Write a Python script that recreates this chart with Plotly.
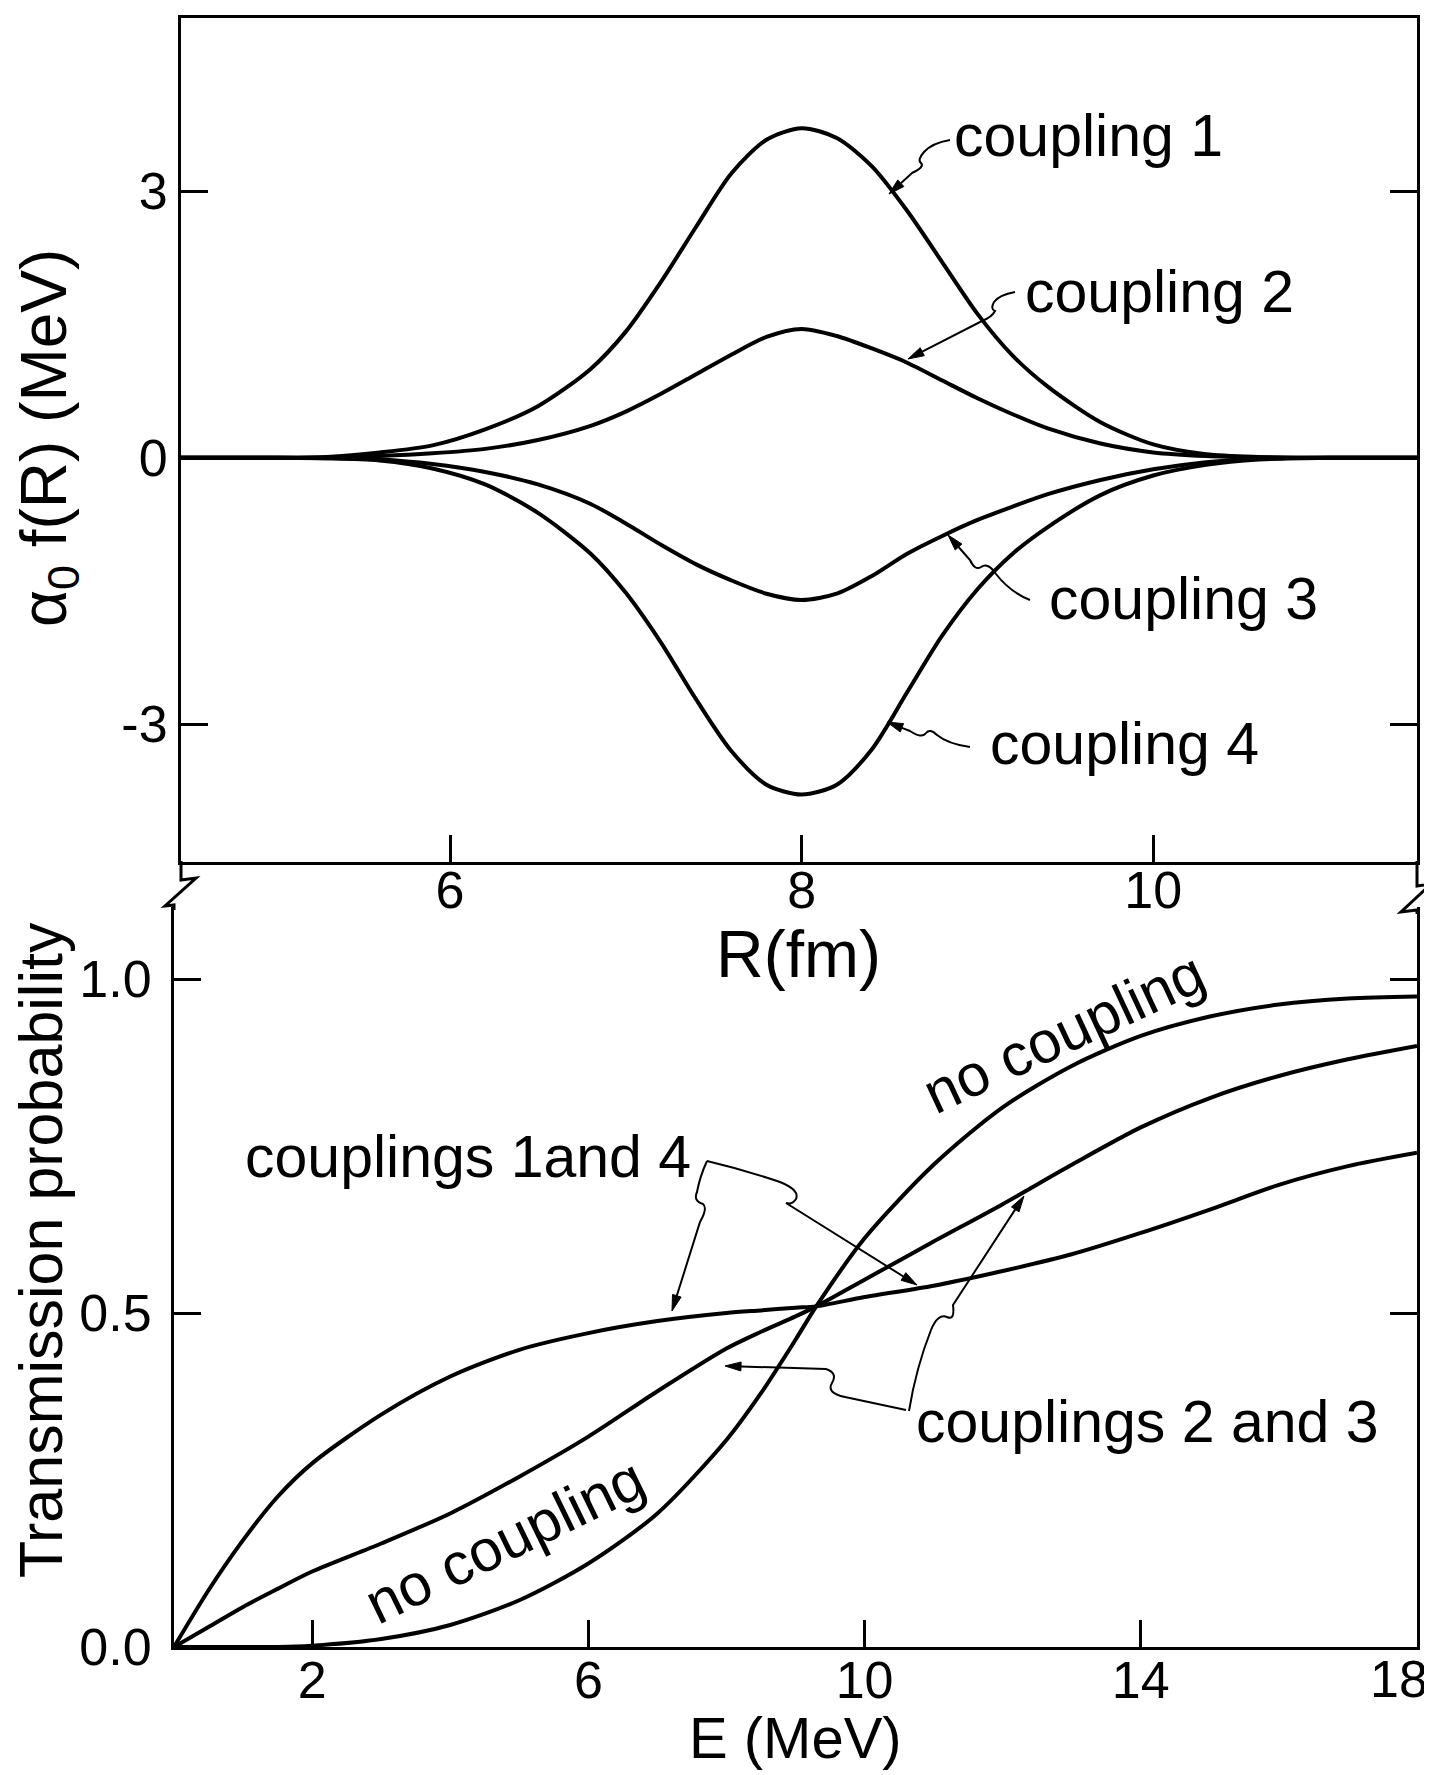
import math
import plotly.graph_objects as go

# ---------------- data ----------------
R = [4.47, 5.0, 5.3, 5.6, 5.9, 6.2, 6.5, 6.8, 7.0, 7.2, 7.4, 7.6, 7.8, 8.0,
     8.2, 8.4, 8.6, 8.8, 9.0, 9.2, 9.4, 9.7, 10.0, 10.3, 10.6, 11.0, 11.5]
coupling1 = [0, 0, 0.01, 0.06, 0.14, 0.32, 0.58, 1.0, 1.42, 1.98, 2.6, 3.2, 3.58, 3.71,
             3.6, 3.28, 2.78, 2.2, 1.62, 1.15, 0.8, 0.4, 0.15, 0.04, 0.01, 0, 0]
coupling2 = [0, 0, 0.005, 0.02, 0.05, 0.1, 0.2, 0.36, 0.52, 0.72, 0.94, 1.16, 1.36, 1.45,
             1.37, 1.23, 1.07, 0.87, 0.67, 0.49, 0.33, 0.16, 0.06, 0.02, 0.005, 0, 0]
coupling3 = [0, 0, -0.005, -0.02, -0.07, -0.16, -0.3, -0.52, -0.74, -0.98, -1.2, -1.38, -1.53, -1.6,
             -1.53, -1.33, -1.08, -0.88, -0.7, -0.55, -0.41, -0.25, -0.13, -0.05, -0.01, 0, 0]
coupling4 = [0, 0, -0.005, -0.03, -0.12, -0.3, -0.62, -1.08, -1.52, -2.08, -2.72, -3.3, -3.68, -3.79,
             -3.68, -3.28, -2.64, -2.0, -1.48, -1.08, -0.78, -0.42, -0.2, -0.08, -0.02, 0, 0]

E = [0, 0.5, 1, 1.5, 2, 3, 4, 5, 6, 7, 8, 8.5, 9, 9.3, 10, 11, 12, 13, 14, 15, 16, 17, 18]
no_coupling = [0, 0, 0, 0, 0.002, 0.012, 0.033, 0.07, 0.125, 0.2, 0.31, 0.38, 0.46, 0.51,
               0.612, 0.722, 0.808, 0.87, 0.915, 0.944, 0.962, 0.971, 0.974]
couplings_2_3 = [0, 0.03, 0.06, 0.087, 0.113, 0.155, 0.2, 0.255, 0.315, 0.383, 0.447, 0.472, 0.495,
                 0.51, 0.55, 0.607, 0.663, 0.722, 0.778, 0.822, 0.855, 0.88, 0.9]
couplings_1_4 = [0, 0.085, 0.16, 0.225, 0.275, 0.348, 0.405, 0.445, 0.47, 0.488, 0.5, 0.504, 0.508,
                 0.51, 0.524, 0.541, 0.563, 0.588, 0.62, 0.655, 0.692, 0.72, 0.74]

top_yticks = [-3, 0, 3]
top_yticktext = ["-3", "0", "3"]
top_xticks = [6, 8, 10]
bot_xticks = [2, 6, 10, 14]
bot_last_tick = "18"          # sits on the right frame; label placed just inside the page
bot_yticks = [0, 0.5, 1.0]
bot_yticktext = ["0.0", "0.5", "1.0"]

# ---------------- layout helpers ----------------
# The page body has an 8 px default margin, so the figure is made 8 px smaller
# and all page-pixel positions are converted with that offset.
OFF = 8
PAGE_W, PAGE_H = 1432, 1775
W, H = PAGE_W - OFF, PAGE_H - OFF
FONT = "Liberation Sans, Arial, Helvetica, sans-serif"


def px(x):
    return (x - OFF) / W


def py(y):
    return 1 - (y - OFF) / H


def pt(p):
    return f"{px(p[0]):.5f},{py(p[1]):.5f}"


def path(cmds, close=False):
    """Each segment gets its own command letter (plotly ignores extra params)."""
    out = []
    for c, pts in cmds:
        if c in ("M", "L"):
            for i, p in enumerate(pts):
                out.append(("M" if (c == "M" and i == 0) else "L") + " " + pt(p))
        elif c == "Q":
            for i in range(0, len(pts), 2):
                out.append("Q " + pt(pts[i]) + " " + pt(pts[i + 1]))
    s = " ".join(out)
    return s + " Z" if close else s


fig = go.Figure()

line_style = dict(color="black", width=4, shape="spline", smoothing=0.8)
for ys, nm in [(coupling1, "coupling 1"), (coupling2, "coupling 2"),
               (coupling3, "coupling 3"), (coupling4, "coupling 4")]:
    fig.add_trace(go.Scatter(x=R, y=ys, mode="lines", line=line_style, name=nm,
                             xaxis="x", yaxis="y", cliponaxis=False, hoverinfo="skip"))

for ys, nm in [(no_coupling, "no coupling"), (couplings_2_3, "couplings 2 and 3"),
               (couplings_1_4, "couplings 1 and 4")]:
    fig.add_trace(go.Scatter(x=E, y=ys, mode="lines", line=line_style, name=nm,
                             xaxis="x2", yaxis="y2", cliponaxis=False, hoverinfo="skip"))

axis_common = dict(showline=True, linecolor="black", linewidth=3, ticks="inside",
                   ticklen=27, tickwidth=3, tickcolor="black", showgrid=False,
                   zeroline=False, tickfont=dict(family=FONT, size=52, color="black"),
                   automargin=False)

fig.update_layout(
    width=W, height=H,
    margin=dict(l=0, r=0, t=0, b=0),
    paper_bgcolor="white", plot_bgcolor="white",
    showlegend=False,
    font=dict(family=FONT, color="black"),
    xaxis=dict(domain=[px(181), px(1417)], range=[4.47, 11.5], tickvals=top_xticks,
               mirror=True, anchor="y", ticklabelstandoff=-19, **axis_common),
    yaxis=dict(domain=[py(862), py(18)], range=[-4.55, 4.95], tickvals=top_yticks,
               ticktext=top_yticktext, mirror="ticks", anchor="x", ticklabelstandoff=0,
               **axis_common),
    xaxis2=dict(domain=[px(174), px(1417)], range=[0, 18], tickvals=bot_xticks,
                mirror=False, anchor="y2", ticklabelstandoff=-14, **axis_common),
    yaxis2=dict(domain=[py(1647), py(907)], range=[0, 1.108], tickvals=bot_yticks,
                ticktext=bot_yticktext, mirror="ticks", anchor="x2", ticklabelstandoff=9,
                **axis_common),
)

# "18" label at the right end of the E axis (kept inside the page)
fig.add_annotation(text=bot_last_tick, x=px(1399), y=py(1679), xref="paper", yref="paper",
                   xanchor="center", yanchor="middle", showarrow=False,
                   font=dict(family=FONT, size=52, color="black"))

# ---------------- axis titles ----------------
titles = [
    dict(text="\u03b1<sub>0</sub> f(R) (MeV)", x=48, y=438, size=64, angle=-90),
    dict(text="R(fm)", x=799, y=954, size=66, angle=0),
    dict(text="Transmission probability", x=41, y=1250, size=61, angle=-90),
    dict(text="E (MeV)", x=795, y=1737, size=58, angle=0),
]
for t in titles:
    fig.add_annotation(text=t["text"], x=px(t["x"]), y=py(t["y"]), xref="paper", yref="paper",
                       xanchor="center", yanchor="middle", showarrow=False, textangle=t["angle"],
                       font=dict(family=FONT, size=t["size"], color="black"))

# ---------------- curve labels ----------------
labels = [
    ("coupling 1", 1088, 136, 0),
    ("coupling 2", 1159, 292, 0),
    ("coupling 3", 1183, 599, 0),
    ("coupling 4", 1124, 744, 0),
    ("couplings 1and 4", 468, 1157, 0),
    ("couplings 2 and 3", 1147, 1422, 0),
    ("no coupling", 1064, 1033, -25),
    ("no coupling", 505, 1541, -26),
]
for txt, x, y, ang in labels:
    fig.add_annotation(text=txt, x=px(x), y=py(y), xref="paper", yref="paper",
                       xanchor="center", yanchor="middle", showarrow=False, textangle=ang,
                       font=dict(family=FONT, size=59, color="black"))

# ---------------- leader lines (squiggles) + arrowheads ----------------
leaders = [
    ([("M", [(950, 140)]), ("Q", [(932, 143), (924, 152), (917, 160), (921, 163),
                                  (925, 167), (912, 173)])], (912, 173), (889, 194)),
    ([("M", [(1015, 292)]), ("Q", [(999, 295), (994, 302), (990, 309), (995, 311),
                                   (992, 317), (982, 321)])], (982, 321), (908, 359)),
    ([("M", [(1030, 600)]), ("Q", [(1010, 592), (996, 574), (988, 562), (981, 567),
                                   (975, 571), (970, 560)])], (970, 560), (948, 535)),
    ([("M", [(970, 747)]), ("Q", [(948, 744), (937, 735), (930, 728), (926, 733),
                                  (922, 739), (910, 731)])], (910, 731), (887, 722)),
    ([("M", [(707, 1161)]), ("Q", [(700, 1176), (697, 1192), (693, 1201), (703, 1204),
                                   (708, 1208), (700, 1222)])], (700, 1222), (672, 1311)),
    ([("M", [(707, 1161)]), ("Q", [(745, 1170), (780, 1182), (800, 1190), (796, 1199),
                                   (792, 1205), (786, 1203)])], (786, 1203), (917, 1285)),
    ([("M", [(906, 1410)]), ("L", [(845, 1397)]), ("Q", [(826, 1393), (832, 1383),
                                                         (838, 1373), (826, 1369)])],
     (826, 1369), (725, 1366)),
    ([("M", [(909, 1411)]), ("Q", [(916, 1368), (931, 1330), (938, 1313), (947, 1317),
                                   (955, 1321), (953, 1305)])], (953, 1305), (1024, 1196)),
]
for cmds, tail, tip in leaders:
    dx, dy = tip[0] - tail[0], tip[1] - tail[1]
    n = math.hypot(dx, dy)
    ux, uy = dx / n, dy / n
    L, w = 16, 4.5
    bx, by = tip[0] - ux * L, tip[1] - uy * L
    p1 = (bx - uy * w, by + ux * w)
    p2 = (bx + uy * w, by - ux * w)
    fig.add_shape(type="path", path=path(cmds + [("L", [(bx, by)])]), xref="paper", yref="paper",
                  line=dict(color="black", width=2))
    fig.add_shape(type="path", path=path([("M", [tip]), ("L", [p1, p2])], close=True),
                  xref="paper", yref="paper", fillcolor="black",
                  line=dict(color="black", width=1))

# ---------------- axis break marks ----------------
breaks = [
    [("M", [(181, 861)]), ("L", [(181, 880), (196, 878), (165, 906), (174, 905), (174, 910)])],
    [("M", [(1417, 861)]), ("L", [(1417, 886), (1431, 884), (1401, 912), (1417, 910), (1417, 914)])],
]
for b in breaks:
    fig.add_shape(type="path", path=path(b), xref="paper", yref="paper",
                  line=dict(color="black", width=3))

fig.write_html("out.html")
